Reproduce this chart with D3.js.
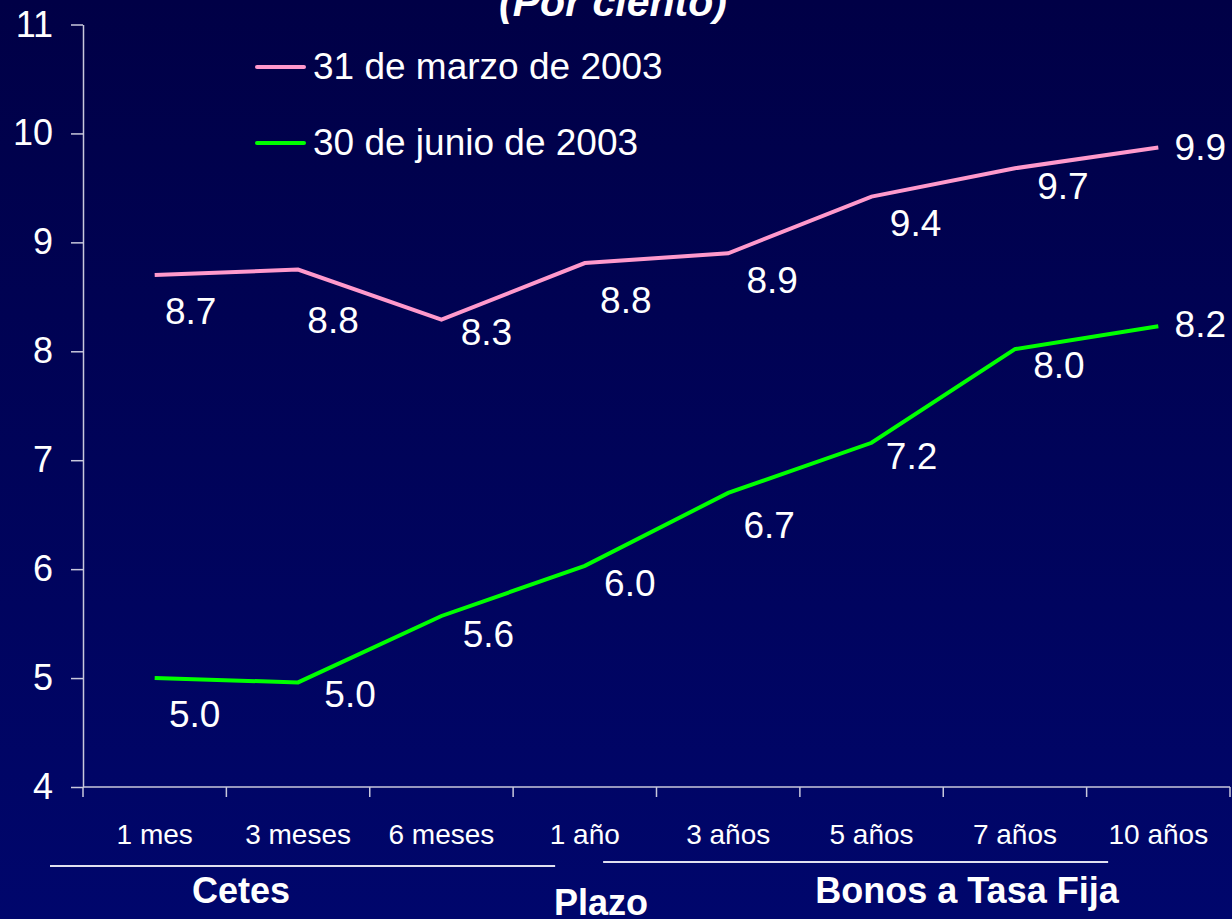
<!DOCTYPE html>
<html>
<head>
<meta charset="utf-8">
<script src="https://cdn.jsdelivr.net/npm/d3@7"></script>
<style>
  html, body { margin: 0; padding: 0; background: #000048; }
  svg { display: block; }
  text { font-family: "Liberation Sans", Arial, sans-serif; fill: #ffffff; }
</style>
</head>
<body>
<svg id="chart" width="1232" height="919"></svg>
<script>
// ---- data ----
const categories = ["1 mes", "3 meses", "6 meses", "1 año", "3 años", "5 años", "7 años", "10 años"];
const seriesNames = ["31 de marzo de 2003", "30 de junio de 2003"];
const marzo = [8.70, 8.75, 8.29, 8.81, 8.90, 9.42, 9.68, 9.87];
const junio = [5.00, 4.96, 5.57, 6.03, 6.70, 7.16, 8.02, 8.23];
const yTicks = [4, 5, 6, 7, 8, 9, 10, 11];
const groupNames = ["Cetes", "Bonos a Tasa Fija"];
const axisTitle = "Plazo";
const chartTitle = "(Por ciento)";
// label nudges (layout only, pixels relative to each point)
const marzoLabelDx = [36, 35, 45, 41, 44, 44, 48, 42];
const marzoLabelDy = [49, 63, 25, 50, 40, 39, 31, 12];
const junioLabelDx = [40, 52, 47, 45, 41, 40, 44, 42];
const junioLabelDy = [49, 25, 31, 30, 45, 26, 29, 11];

const colors = ["#ff99cc", "#00ff00"];

const svg = d3.select("#chart");
const W = 1232, H = 919;

// background gradient
const defs = svg.append("defs");
const grad = defs.append("linearGradient").attr("id", "bg").attr("x1", 0).attr("y1", 0).attr("x2", 0).attr("y2", 1);
grad.append("stop").attr("offset", "0%").attr("stop-color", "#000046");
grad.append("stop").attr("offset", "100%").attr("stop-color", "#00066c");
svg.append("rect").attr("width", W).attr("height", H).attr("fill", "url(#bg)");

const x = d3.scaleBand().domain(categories).range([83, 1230]);
const y = d3.scaleLinear().domain([4, 11]).range([787, 24.5]);
const cx = c => x(c) + x.bandwidth() / 2;

const axisColor = "#c8c8dc";

// y axis
const gy = svg.append("g").attr("transform", "translate(83,0)")
  .call(d3.axisLeft(y).tickValues(yTicks).tickSize(12).tickSizeOuter(0).tickPadding(18).tickFormat(d3.format("d")));
gy.select(".domain").attr("stroke", axisColor).attr("stroke-width", 1.5);
gy.selectAll(".tick line").attr("stroke", axisColor).attr("stroke-width", 1.5);
gy.selectAll(".tick text").attr("font-size", 36).attr("fill", "#fff")
  .attr("font-family", "Liberation Sans, Arial, sans-serif");

// x axis
const gx = svg.append("g").attr("transform", "translate(0,787)");
gx.append("line").attr("x1", x.range()[0]).attr("x2", x.range()[1]).attr("y1", 0).attr("y2", 0)
  .attr("stroke", axisColor).attr("stroke-width", 1.5);
const boundaries = categories.map(c => x(c)).concat([x.range()[1]]);
gx.selectAll("line.xt").data(boundaries).join("line").attr("class", "xt")
  .attr("x1", d => d).attr("x2", d => d).attr("y1", 0).attr("y2", 10)
  .attr("stroke", axisColor).attr("stroke-width", 1.5);
gx.selectAll("text.xl").data(categories).join("text").attr("class", "xl")
  .attr("x", d => cx(d)).attr("y", 57)
  .attr("text-anchor", "middle").attr("font-size", 28).text(d => d);

// group underlines and labels
const bw = x.bandwidth();
const leftLine = [x(categories[0]) - 33, x(categories[3]) + 42];
const rightLine = [x(categories[3]) + 90, x(categories[7]) + bw * 0.15];
svg.append("line").attr("x1", leftLine[0]).attr("x2", leftLine[1]).attr("y1", 866).attr("y2", 866)
  .attr("stroke", "#e0e0f0").attr("stroke-width", 2);
svg.append("line").attr("x1", rightLine[0]).attr("x2", rightLine[1]).attr("y1", 862).attr("y2", 862)
  .attr("stroke", "#e0e0f0").attr("stroke-width", 2);
svg.append("text").attr("x", 241).attr("y", 903).attr("text-anchor", "middle")
  .attr("font-size", 36).attr("font-weight", "bold").text(groupNames[0]);
svg.append("text").attr("x", 967).attr("y", 903).attr("text-anchor", "middle")
  .attr("font-size", 36).attr("font-weight", "bold").text(groupNames[1]);
svg.append("text").attr("x", 601).attr("y", 915).attr("text-anchor", "middle")
  .attr("font-size", 36).attr("font-weight", "bold").text(axisTitle);

// title (partially cut off at top, as in the reference)
svg.append("text").attr("x", 613).attr("y", 16).attr("text-anchor", "middle")
  .attr("font-size", 41).attr("font-weight", "bold").attr("font-style", "italic").text(chartTitle);

// lines
const line = d3.line().x((d, i) => cx(categories[i])).y(d => y(d));
[marzo, junio].forEach((s, k) => {
  svg.append("path").datum(s).attr("d", line).attr("fill", "none")
    .attr("stroke", colors[k]).attr("stroke-width", 4).attr("stroke-linejoin", "miter");
});

// data labels
const labelSets = [[marzo, marzoLabelDx, marzoLabelDy], [junio, junioLabelDx, junioLabelDy]];
labelSets.forEach(([s, dx, dy]) => {
  svg.append("g").selectAll("text").data(s).join("text")
    .attr("x", (d, i) => cx(categories[i]) + dx[i])
    .attr("y", (d, i) => y(d) + dy[i])
    .attr("text-anchor", "middle").attr("font-size", 37)
    .text(d => d.toFixed(1));
});

// legend
const legendY = [67, 143];
seriesNames.forEach((n, k) => {
  svg.append("line").attr("x1", 257).attr("x2", 304).attr("y1", legendY[k]).attr("y2", legendY[k])
    .attr("stroke", colors[k]).attr("stroke-width", 4).attr("stroke-linecap", "round");
  svg.append("text").attr("x", 313).attr("y", legendY[k] + 12).attr("font-size", 37).text(n);
});
</script>
</body>
</html>
